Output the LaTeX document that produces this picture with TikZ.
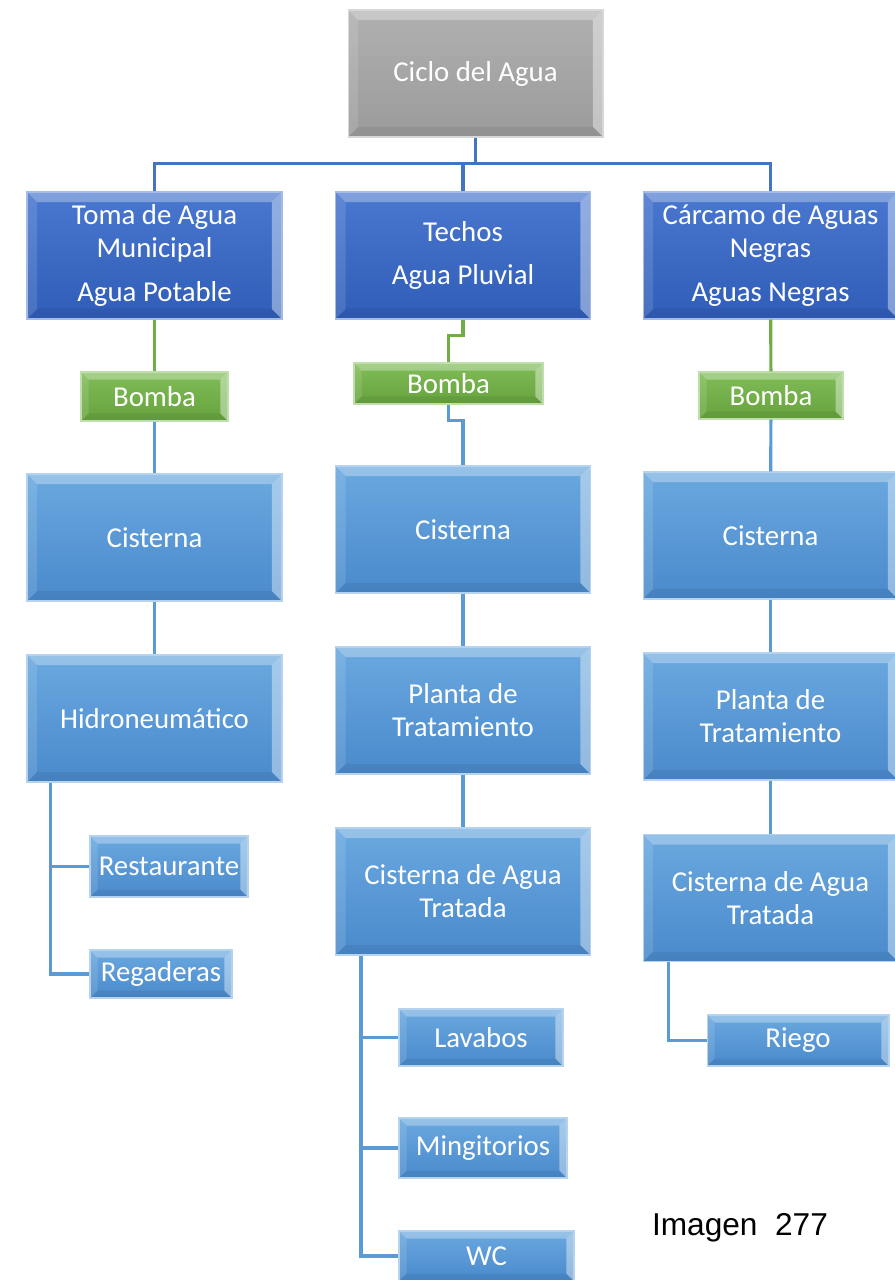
\documentclass[tikz,border=0pt]{standalone}
\usepackage{fontspec}
\setmainfont{Carlito}
\newfontfamily\arialfont{Liberation Sans}
\usepackage{xcolor}
\usetikzlibrary{positioning, calc}

\definecolor{grayTop}{HTML}{B0B0B0}
\definecolor{grayBot}{HTML}{9B9B9B}
\definecolor{navyTop}{HTML}{4A78D0}
\definecolor{navyBot}{HTML}{2F5DB7}
\definecolor{skyTop}{HTML}{6AA8DF}
\definecolor{skyBot}{HTML}{4A8ACC}
\definecolor{leafTop}{HTML}{80BD58}
\definecolor{leafBot}{HTML}{66A33D}
\definecolor{lineNavy}{HTML}{4472C4}
\definecolor{lineSky}{HTML}{5B9BD5}
\definecolor{lineLeaf}{HTML}{70AD47}

\begin{document}
\begin{tikzpicture}[
    x=0.02cm, y=-0.02cm,
    font=\fontsize{16.4}{18.7}\selectfont,
    bevel/.style={path picture={
        \path (path picture bounding box.north west) coordinate (nw)
              (path picture bounding box.south east) coordinate (se);
        \fill[white, opacity=0.3] (nw) -- (se |- nw) -- ([shift={(-#1,-#1)}]se |- nw) -- ([shift={(#1,-#1)}]nw) -- cycle;
        \fill[white, opacity=0.12] (nw) -- ([shift={(#1,-#1)}]nw) -- ([shift={(#1,#1)}]nw |- se) -- (nw |- se) -- cycle;
        \fill[black, opacity=0.06] (nw |- se) -- (se) -- ([shift={(-#1,#1)}]se) -- ([shift={(#1,#1)}]nw |- se) -- cycle;
        \fill[white, opacity=0.4] (se |- nw) -- (se) -- ([shift={(-#1,#1)}]se) -- ([shift={(-#1,-#1)}]se |- nw) -- cycle;
    }},
    bevel/.default=0.2cm,
    box/.style={rectangle, text=white, align=center, inner sep=0pt,
        minimum width=5.1cm, minimum height=2.54cm, line width=0.6pt},
    headbox/.style={box, draw=grayTop!50!white, top color=grayTop, bottom color=grayBot, bevel},
    srcbox/.style={box, draw=navyTop!50!white, top color=navyTop, bottom color=navyBot, bevel},
    tankbox/.style={box, draw=skyTop!50!white, top color=skyTop, bottom color=skyBot, bevel},
    pumpbox/.style={box, draw=leafTop!50!white, top color=leafTop, bottom color=leafBot, bevel=0.15cm},
    usebox/.style={box, draw=skyTop!50!white, top color=skyTop, bottom color=skyBot, bevel=0.15cm},
    trunk/.style={draw=lineNavy, line width=2.1pt},
    pipe/.style={draw=lineSky, line width=1.8pt},
    pipeG/.style={draw=lineLeaf, line width=1.8pt},
]
    \useasboundingbox (0,0) rectangle (894,1280);

    % top
    \node[headbox] (ciclo) at (475.5,73.5) {Ciclo del Agua};

    % sources
    \node[srcbox] (toma) at (154.5,255.5) {Toma de Agua\\Municipal\\[6pt]Agua Potable};
    \node[srcbox] (techos) at (463,255.5) {Techos\\[6pt]Agua Pluvial};
    \node[srcbox] (carcamo) at (770.5,255.5) {Cárcamo de Aguas\\Negras\\[6pt]Aguas Negras};

    % pumps
    \node[pumpbox, minimum width=2.94cm, minimum height=0.98cm] (bombaL) at (154.5,396.5) {Bomba};
    \node[pumpbox, minimum width=3.78cm, minimum height=0.82cm] (bombaM) at (448.5,383.5) {Bomba};
    \node[pumpbox, minimum width=2.88cm, minimum height=0.94cm] (bombaR) at (771,395.5) {Bomba};

    % tanks
    \node[tankbox] (cisL) at (154.5,537.5) {Cisterna};
    \node[tankbox] (cisM) at (463,529.5) {Cisterna};
    \node[tankbox] (cisR) at (770.5,535.5) {Cisterna};

    \node[tankbox] (hidro) at (154.5,718.5) {Hidroneumático};
    \node[tankbox] (plantaM) at (463,710.5) {Planta de\\Tratamiento};
    \node[tankbox] (plantaR) at (770.5,716.5) {Planta de\\Tratamiento};

    \node[tankbox] (tratM) at (463,891.5) {Cisterna de Agua\\Tratada};
    \node[tankbox] (tratR) at (770.5,898) {Cisterna de Agua\\Tratada};

    % uses
    \node[usebox, minimum width=3.16cm, minimum height=1.22cm] (rest) at (169,866.5) {Restaurante};
    \node[usebox, minimum width=2.84cm, minimum height=0.96cm] (rega) at (161,974) {Regaderas};
    \node[usebox, minimum width=3.28cm, minimum height=1.14cm] (lav) at (481,1037.5) {Lavabos};
    \node[usebox, minimum width=3.36cm, minimum height=1.2cm] (ming) at (483,1148) {Mingitorios};
    \node[usebox, minimum width=3.5cm, minimum height=1.0cm] (wc) at (486.5,1256) {WC};
    \node[usebox, minimum width=3.64cm, minimum height=1.02cm] (riego) at (798,1040.5) {Riego};

    \node[font=\arialfont\fontsize{18}{20}\selectfont] (caption) at (740,1228) {Imagen\ \ 277};

    % connectors
    \draw[trunk] (ciclo.south) -- ++(0,26) -| (toma.north);
    \draw[trunk] (ciclo.south) -- ++(0,26) -| (techos.north);
    \draw[trunk] (ciclo.south) -- ++(0,26) -| (carcamo.north);

    \draw[pipeG] (toma) -- (bombaL);
    \draw[pipeG] (techos.south) -- ++(0,16) -| (bombaM.north);
    \draw[pipeG] (carcamo) -- (bombaR);

    \draw[pipe] (bombaL) -- (cisL);
    \draw[pipe] (bombaM.south) -- ++(0,16) -| (cisM.north);
    \draw[pipe] (bombaR) -- (cisR);

    \draw[pipe] (cisL) -- (hidro);
    \draw[pipe] (cisM) -- (plantaM);
    \draw[pipe] (plantaM) -- (tratM);
    \draw[pipe] (cisR) -- (plantaR);
    \draw[pipe] (plantaR) -- (tratR);

    \draw[pipe] ([xshift=0.48cm]hidro.south west) |- (rest.west);
    \draw[pipe] ([xshift=0.48cm]hidro.south west) |- (rega.west);
    \draw[pipe] ([xshift=0.52cm]tratM.south west) |- (lav.west);
    \draw[pipe] ([xshift=0.52cm]tratM.south west) |- (ming.west);
    \draw[pipe] ([xshift=0.52cm]tratM.south west) |- (wc.west);
    \draw[pipe] ([xshift=0.52cm]tratR.south west) |- (riego.west);
\end{tikzpicture}
\end{document}
